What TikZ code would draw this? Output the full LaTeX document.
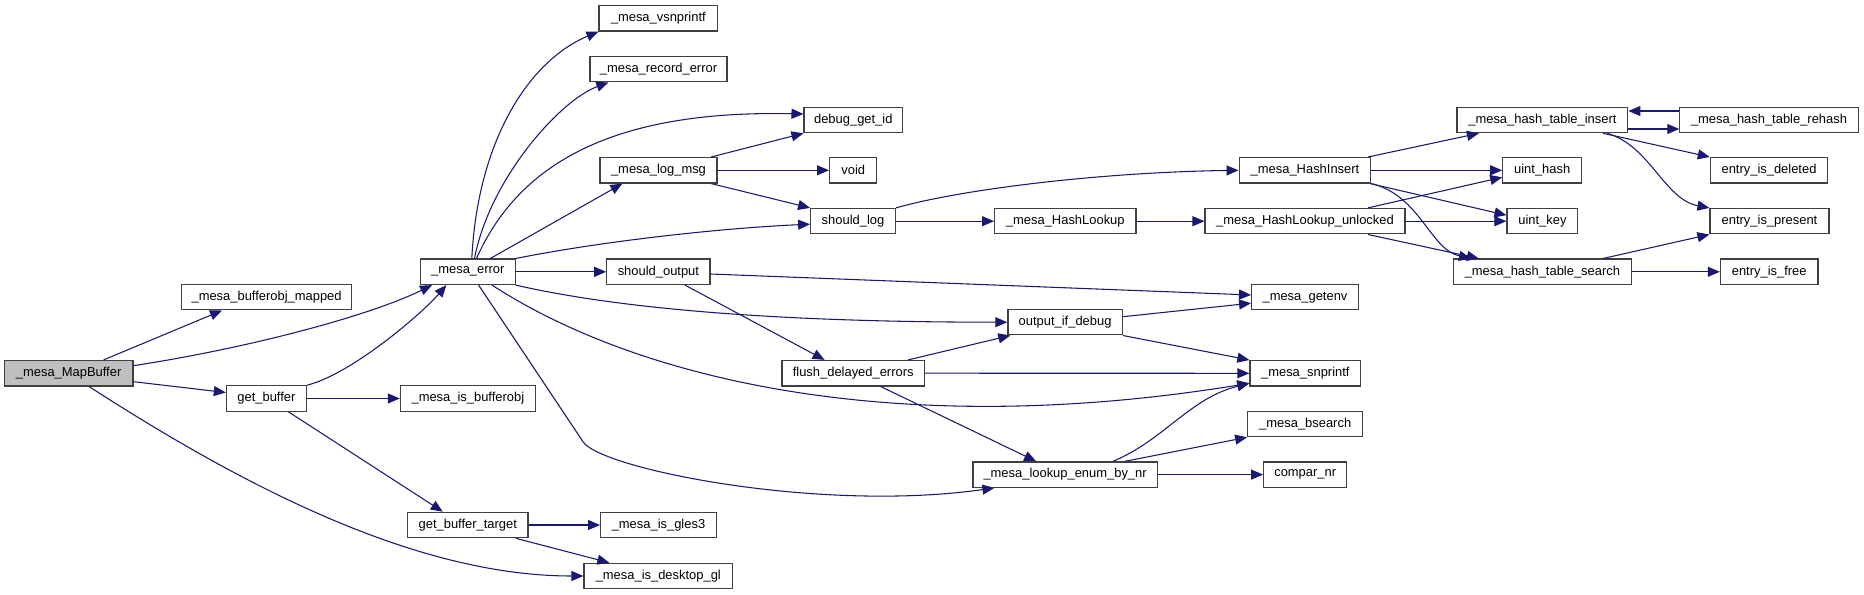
\documentclass[tikz,border=0pt]{standalone}
\usepackage{fontspec}
\setmainfont{Liberation Sans}
\usetikzlibrary{arrows.meta}
\definecolor{edgeblue}{HTML}{191970}
\definecolor{nodeline}{HTML}{404040}
\definecolor{rootfill}{HTML}{BFBFBF}
\newcommand{\fnfont}{\fontsize{9.7}{11}\selectfont}
\tikzset{
  fn/.style={draw=nodeline, line width=0.9pt, fill=white, font=\fnfont, inner sep=0pt,
             minimum height=25.4*0.75pt, align=center},
  root/.style={fn, fill=rootfill},
  bw/.style={minimum width=#1*0.75pt},
  call/.style={-{Triangle[length=9pt,width=7.5pt]}, draw=edgeblue, line width=0.8pt},
}

\begin{document}
\begin{tikzpicture}[x=0.75pt,y=-0.75pt]
\useasboundingbox (0,0) rectangle (1864,595);
% ---- nodes ----
\node[root, bw=128.6] (mapbuf)   at (68.6,373.2)  {\_mesa\_MapBuffer};
\node[fn, bw=170.4]   (bomapped) at (266.6,297.2) {\_mesa\_bufferobj\_mapped};
\node[fn, bw=80]      (getbuf)   at (266.4,398.5) {get\_buffer};
\node[fn, bw=94.6]    (merror)   at (467.8,271.8) {\_mesa\_error};
\node[fn, bw=135]     (isbo)     at (467.9,398.5) {\_mesa\_is\_bufferobj};
\node[fn, bw=120.2]   (gbtarget) at (467.8,525)   {get\_buffer\_target};
\node[fn, bw=118.6]   (vsnp)     at (658.3,18.3)  {\_mesa\_vsnprintf};
\node[fn, bw=137]     (recerr)   at (658.5,69.2)  {\_mesa\_record\_error};
\node[fn, bw=117]     (logmsg)   at (658.5,170.3) {\_mesa\_log\_msg};
\node[fn, bw=103.2]   (shout)    at (658.4,271.8) {should\_output};
\node[fn, bw=115.7]   (gles)     at (658.5,525)   {\_mesa\_is\_gles3};
\node[fn, bw=148.6]   (deskgl)   at (658.3,576)   {\_mesa\_is\_desktop\_gl};
\node[fn, bw=98.5]    (dbgid)    at (853.3,120)   {debug\_get\_id};
\node[fn, bw=47.2]    (voidn)    at (853.2,170.3) {void};
\node[fn, bw=84.6]    (shlog)    at (853,221.2)   {should\_log};
\node[fn, bw=142.6]   (flush)    at (853.2,373.2) {flush\_delayed\_errors};
\node[fn, bw=141.4]   (hlook)    at (1065.3,221.2) {\_mesa\_HashLookup};
\node[fn, bw=114.4]   (oifdbg)   at (1065.1,322.2) {output\_if\_debug};
\node[fn, bw=184.3]   (lookenum) at (1065.1,474.6) {\_mesa\_lookup\_enum\_by\_nr};
\node[fn, bw=131.7]   (hins)     at (1305,170.3)  {\_mesa\_HashInsert};
\node[fn, bw=200]     (hlunl)    at (1305,221.2)  {\_mesa\_HashLookup\_unlocked};
\node[fn, bw=106.7]   (getenv)   at (1305,297.2)  {\_mesa\_getenv};
\node[fn, bw=110.7]   (snpr)     at (1305.3,373.3) {\_mesa\_snprintf};
\node[fn, bw=115]     (bsrch)    at (1305.2,424)  {\_mesa\_bsearch};
\node[fn, bw=83]      (compnr)   at (1305.2,474.6) {compar\_nr};
\node[fn, bw=170.8]   (htins)    at (1542.4,120)  {\_mesa\_hash\_table\_insert};
\node[fn, bw=78.8]    (uhash)    at (1542.2,170.3) {uint\_hash};
\node[fn, bw=70.8]    (ukey)     at (1542.4,221.2) {uint\_key};
\node[fn, bw=177.5]   (htsrch)   at (1542.4,271.8) {\_mesa\_hash\_table\_search};
\node[fn, bw=178.3]   (rehash)   at (1769,120)    {\_mesa\_hash\_table\_rehash};
\node[fn, bw=117.3]   (edel)     at (1769,170.3)  {entry\_is\_deleted};
\node[fn, bw=119]     (epres)    at (1769.5,221.2) {entry\_is\_present};
\node[fn, bw=97.5]    (efree)    at (1769.2,271.8) {entry\_is\_free};
% ---- calls from _mesa_MapBuffer ----
\draw[call] ([shift={(35,0)}]mapbuf.north) -- ([shift={(-44.6,0)}]bomapped.south);
\draw[call] ([shift={(0,-7.5)}]mapbuf.east) .. controls +(117,-18) and +(-62,30.5) .. ([shift={(-35.8,0)}]merror.south);
\draw[call] ([shift={(0,8.5)}]mapbuf.east) -- ([shift={(0,-6)}]getbuf.west);
\draw[call] ([shift={(20.4,0)}]mapbuf.south) .. controls +(161,104) and +(-164,0) .. (deskgl.west);
% ---- get_buffer / get_buffer_target ----
\draw[call] (getbuf.north east) .. controls +(44,-11) and +(-26,30) .. ([shift={(-21.4,0)}]merror.south);
\draw[call] (getbuf.east) -- (isbo.west);
\draw[call] ([shift={(22,0)}]getbuf.south) -- ([shift={(-25,0)}]gbtarget.north);
\draw[call] (gbtarget.east) -- (gles.west);
\draw[call] ([shift={(48,0)}]gbtarget.south) -- ([shift={(-49,0)}]deskgl.north);
% ---- calls from _mesa_error ----
\draw[call] ([shift={(4,0)}]merror.north) .. controls +(6,-119) and +(-69,29) .. (vsnp.south west);
\draw[call] ([shift={(6.7,0)}]merror.north) .. controls +(15,-79) and +(-49,18) .. ([shift={(19,0)}]recerr.south west);
\draw[call] ([shift={(8.7,0)}]merror.north) .. controls +(44,-99) and +(-184,-4) .. ([shift={(0,-6)}]dbgid.west);
\draw[call] ([shift={(22.5,0)}]merror.north) -- ([shift={(23,0)}]logmsg.south west);
\draw[call] (merror.north east) .. controls +(85,-17) and +(-91,4) .. ([shift={(0,3)}]shlog.west);
\draw[call] (merror.east) -- (shout.west);
\draw[call] (merror.south east) .. controls +(135,31) and +(-158,0) .. (oifdbg.west);
\draw[call] ([shift={(24.2,0)}]merror.south) .. controls +(148,96) and +(-350,57) .. ([shift={(0,10)}]snpr.west);
\draw[call] ([shift={(10.8,0)}]merror.south) -- ++(104.4,156.6) .. controls +(17,27) and +(-175,25) .. ([shift={(22,0)}]lookenum.south west);
% ---- _mesa_log_msg, should_log, should_output ----
\draw[call] ([shift={(-6.4,0)}]logmsg.north east) -- (dbgid.south west);
\draw[call] (logmsg.east) -- (voidn.west);
\draw[call] ([shift={(-6.4,0)}]logmsg.south east) -- (shlog.north west);
\draw[call] (shlog.north east) .. controls +(65,-18.5) and +(-139,2) .. (hins.west);
\draw[call] (shlog.east) -- (hlook.west);
\draw[call] ([shift={(0,2.2)}]shout.east) -- ([shift={(0,-2.2)}]getenv.west);
\draw[call] ([shift={(26.6,0)}]shout.south) -- ([shift={(-28.6,0)}]flush.north);
% ---- hash table ----
\draw[call] (hlook.east) -- (hlunl.west);
\draw[call] ([shift={(-37.7,0)}]hlunl.north east) -- ([shift={(0,7)}]uhash.west);
\draw[call] (hlunl.east) -- (ukey.west);
\draw[call] ([shift={(-37.7,0)}]hlunl.south east) -- ([shift={(25.8,0)}]htsrch.north west);
\draw[call] ([shift={(-3.4,0)}]hins.north east) -- ([shift={(22.5,0)}]htins.south west);
\draw[call] (hins.east) -- (uhash.west);
\draw[call] ([shift={(-1.3,0)}]hins.south east) -- ([shift={(0,-6)}]ukey.west);
\draw[call] (hins.south east) .. controls +(49,12) and +(-41,-9) .. ([shift={(-71.4,0)}]htsrch.north);
\draw[call] ([shift={(0,9)}]htins.east) -- ([shift={(0,9)}]rehash.west);
\draw[call] ([shift={(0,-9)}]rehash.west) -- ([shift={(0,-9)}]htins.east);
\draw[call] ([shift={(-25.4,0)}]htins.south east) -- (edel.north west);
\draw[call] ([shift={(-21,0)}]htins.south east) .. controls +(43,13) and +(-45,-8.5) .. (epres.north west);
\draw[call] ([shift={(-28.8,0)}]htsrch.north east) -- (epres.south west);
\draw[call] (htsrch.east) -- (efree.west);
% ---- flush_delayed_errors, output_if_debug, lookup ----
\draw[call] ([shift={(-17,0)}]flush.north east) -- ([shift={(3,0)}]oifdbg.south west);
\draw[call] (flush.east) -- (snpr.west);
\draw[call] ([shift={(27.4,0)}]flush.south) -- ([shift={(-29,0)}]lookenum.north);
\draw[call] ([shift={(0,-5.5)}]oifdbg.east) -- ([shift={(0,6)}]getenv.west);
\draw[call] (oifdbg.south east) -- (snpr.north west);
\draw[call] ([shift={(48,0)}]lookenum.north) .. controls +(52,-22) and +(-60,15) .. ([shift={(0,10)}]snpr.west);
\draw[call] ([shift={(60,0)}]lookenum.north) -- (bsrch.south west);
\draw[call] (lookenum.east) -- (compnr.west);
\end{tikzpicture}
\end{document}
